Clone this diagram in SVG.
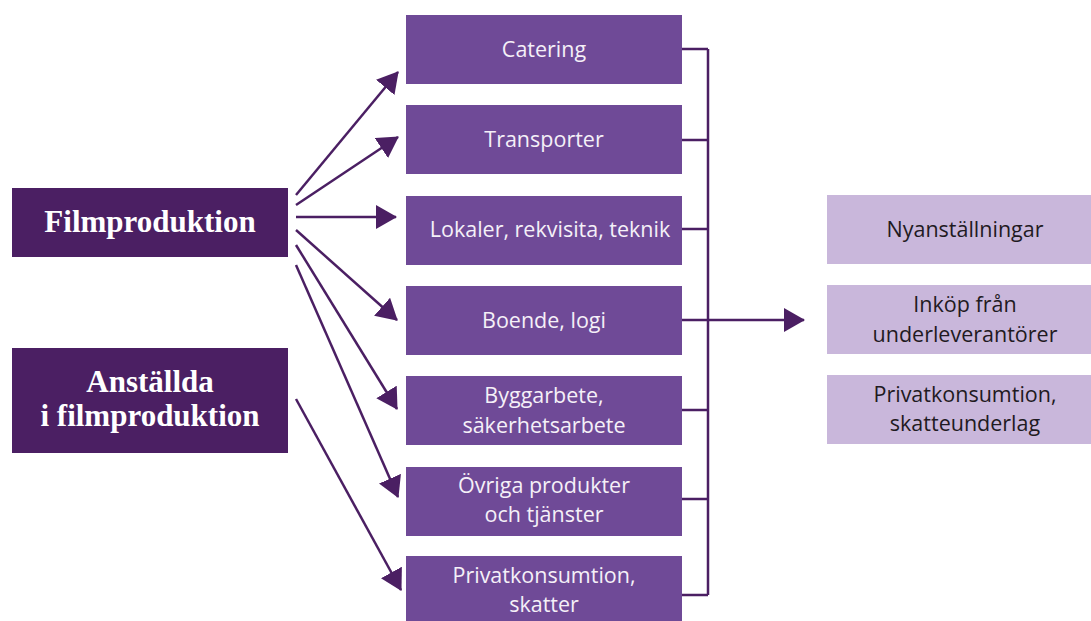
<svg xmlns="http://www.w3.org/2000/svg" width="1091" height="621" viewBox="0 0 1091 621">
<style>
.dark{fill:#4b1f63}
.mid{fill:#6f4a97}
.light{fill:#c9b7db}
.ttl{font-family:"Liberation Serif","DejaVu Serif",serif;font-weight:bold;font-size:31px;fill:#ffffff;text-anchor:middle}
.mt{font-family:"Open Sans","Noto Sans",sans-serif;font-size:21.5px;fill:#f5f0f8;text-anchor:middle}
.rt{font-family:"Open Sans","Noto Sans",sans-serif;font-size:21.5px;fill:#1f1a22;text-anchor:middle}
.ln{stroke:#4b1f63;stroke-width:2.5;fill:none}
</style>
<defs>
<marker id="ah" viewBox="0 0 21 24" refX="20" refY="12" markerWidth="21" markerHeight="24" markerUnits="userSpaceOnUse" orient="auto">
<path d="M0,0 L21,12 L0,24 z" fill="#4b1f63"/>
</marker>
</defs>
<rect width="1091" height="621" fill="#ffffff"/>

<g id="filmproduktion">
<rect class="dark" x="12" y="188" width="276" height="69"/>
<text class="ttl" x="150" y="232">Filmproduktion</text>
</g>
<g id="anstallda">
<rect class="dark" x="12" y="348" width="276" height="105"/>
<text class="ttl" x="150" y="392">Anställda</text>
<text class="ttl" x="150" y="426">i filmproduktion</text>
</g>

<g id="catering">
<rect class="mid" x="406" y="15" width="276" height="69"/>
<text class="mt" x="544" y="57">Catering</text>
</g>
<g id="transporter">
<rect class="mid" x="406" y="105" width="276" height="69"/>
<text class="mt" x="544" y="147">Transporter</text>
</g>
<g id="lokaler">
<rect class="mid" x="406" y="196" width="276" height="69"/>
<text class="mt" x="550" y="237">Lokaler, rekvisita, teknik</text>
</g>
<g id="boende">
<rect class="mid" x="406" y="286" width="276" height="69"/>
<text class="mt" x="544" y="328">Boende, logi</text>
</g>
<g id="byggarbete">
<rect class="mid" x="406" y="376" width="276" height="69"/>
<text class="mt" x="544" y="403">Byggarbete,</text>
<text class="mt" x="544" y="433">säkerhetsarbete</text>
</g>
<g id="ovriga">
<rect class="mid" x="406" y="467" width="276" height="69"/>
<text class="mt" x="544" y="493">Övriga produkter</text>
<text class="mt" x="544" y="522">och tjänster</text>
</g>
<g id="privat">
<rect class="mid" x="406" y="556" width="276" height="69"/>
<text class="mt" x="544" y="583">Privatkonsumtion,</text>
<text class="mt" x="544" y="612">skatter</text>
</g>

<g id="nyanstallningar">
<rect class="light" x="827" y="195" width="276" height="69"/>
<text class="rt" x="965" y="237">Nyanställningar</text>
</g>
<g id="inkop">
<rect class="light" x="827" y="285" width="276" height="69"/>
<text class="rt" x="965" y="312">Inköp från</text>
<text class="rt" x="965" y="342">underleverantörer</text>
</g>
<g id="privatkonsumtion">
<rect class="light" x="827" y="375" width="276" height="69"/>
<text class="rt" x="965" y="402">Privatkonsumtion,</text>
<text class="rt" x="965" y="431">skatteunderlag</text>
</g>

<g id="connectors">
<line class="ln" x1="296" y1="195" x2="398" y2="72" marker-end="url(#ah)"/>
<line class="ln" x1="296" y1="205" x2="398" y2="137" marker-end="url(#ah)"/>
<line class="ln" x1="296" y1="217" x2="396" y2="217" marker-end="url(#ah)"/>
<line class="ln" x1="296" y1="230" x2="397" y2="320" marker-end="url(#ah)"/>
<line class="ln" x1="296" y1="245" x2="397" y2="409" marker-end="url(#ah)"/>
<line class="ln" x1="296" y1="265" x2="398" y2="497" marker-end="url(#ah)"/>
<line class="ln" x1="296" y1="399" x2="401" y2="590" marker-end="url(#ah)"/>
<path class="ln" d="M682,49 H708 M682,140 H708 M682,229 H708 M682,320 H708 M682,410 H708 M682,499 H708 M682,595 H708 M708,49 V595"/>
<line class="ln" x1="708" y1="320" x2="804" y2="320" marker-end="url(#ah)"/>
</g>
</svg>
